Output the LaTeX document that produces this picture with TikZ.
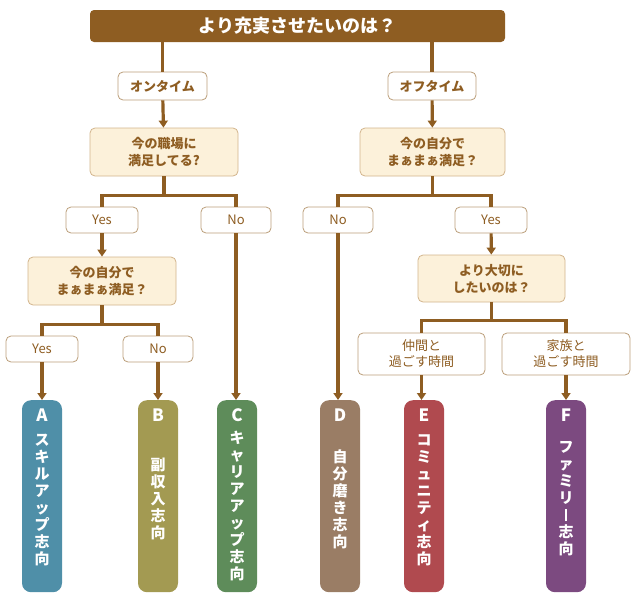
\documentclass[tikz,border=0pt]{standalone}
\usepackage{fontspec}
\setmainfont{Noto Sans CJK JP}
\usetikzlibrary{arrows.meta}
\definecolor{br}{HTML}{8E5D22}
\definecolor{qf}{HTML}{FCF1DA}
\definecolor{qb}{HTML}{D2B48C}
\tikzset{x=1pt,y=-1pt,
ln/.style={draw=br,line width=3.2pt},
ar/.style={ln,-{Triangle[length=7pt,width=9pt]}},
qbox/.style={draw=qb,fill=qf,rounded corners=5pt,line width=0.8pt,text=br,font=\bfseries\fontsize{13}{17}\selectfont,align=center,inner sep=0pt},
lbox/.style={draw=br!60,fill=white,rounded corners=5pt,line width=0.8pt,text=br,font=\fontsize{13}{16}\selectfont,align=center,inner sep=0pt},
bar/.style={rounded corners=9pt,inner sep=0pt,anchor=north,minimum width=40pt,minimum height=192pt},
blet/.style={text=white,font=\bfseries\fontsize{17}{17}\selectfont,inner sep=0pt},
btxt/.style={text=white,font=\bfseries\fontsize{15}{17}\selectfont,align=center,inner sep=0pt,anchor=north}}
\begin{document}
\begin{tikzpicture}
\useasboundingbox (0,0) rectangle (640,605);
\node[fill=br,rounded corners=4pt,minimum width=415pt,minimum height=32pt,text=white,font=\bfseries\fontsize{18}{20}\selectfont] (t) at (297.5,26) {より充実させたいのは？};
\node[lbox,minimum width=89pt,minimum height=28pt] (on) at (162.5,86) {\bfseries オンタイム};
\node[lbox,minimum width=88pt,minimum height=28pt] (off) at (432,86) {\bfseries オフタイム};
\node[qbox,minimum width=148pt,minimum height=48pt] (q1) at (164,152) {今の職場に\\満足してる?};
\node[qbox,minimum width=145pt,minimum height=48pt] (q2) at (432.5,152) {今の自分で\\まぁまぁ満足？};
\node[lbox,minimum width=72pt,minimum height=26pt] (y1) at (102,220) {Yes};
\node[lbox,minimum width=70pt,minimum height=26pt] (n1) at (236,220) {No};
\node[lbox,minimum width=70pt,minimum height=26pt] (n2) at (338,220) {No};
\node[lbox,minimum width=72pt,minimum height=26pt] (y2) at (491,220) {Yes};
\node[qbox,minimum width=148pt,minimum height=48pt] (q3) at (102,281) {今の自分で\\まぁまぁ満足？};
\node[qbox,minimum width=147pt,minimum height=47pt] (q4) at (491.5,278.5) {より大切に\\したいのは？};
\node[lbox,minimum width=72pt,minimum height=26pt] (y3) at (42,349) {Yes};
\node[lbox,minimum width=70pt,minimum height=26pt] (n3) at (158,349) {No};
\node[lbox,minimum width=127pt,minimum height=42pt] (e1) at (421.5,354) {仲間と\\過ごす時間};
\node[lbox,minimum width=128pt,minimum height=42pt] (f1) at (566,354) {家族と\\過ごす時間};
\node[bar,fill={rgb,255:red,79;green,143;blue,168}] (A) at (42,400) {};
\node[bar,fill={rgb,255:red,163;green,154;blue,82}] (B) at (158,400) {};
\node[bar,fill={rgb,255:red,94;green,140;blue,90}] (C) at (237,400) {};
\node[bar,fill={rgb,255:red,154;green,125;blue,101}] (D) at (340,400) {};
\node[bar,fill={rgb,255:red,176;green,74;blue,79}] (E) at (424,400) {};
\node[bar,fill={rgb,255:red,124;green,74;blue,128}] (F) at (566,400) {};
\node[blet] (Al) at (42,415) {A};
\node[blet] (Bl) at (158,415) {B};
\node[blet] (Cl) at (237,415) {C};
\node[blet] (Dl) at (340,415) {D};
\node[blet] (El) at (424,415) {E};
\node[blet] (Fl) at (566,415) {F};
\node[btxt] (At) at (42,434) {ス\\キ\\ル\\ア\\ッ\\プ\\志\\向};
\node[btxt] (Bt) at (158,458) {副\\収\\入\\志\\向};
\node[btxt] (Ct) at (237,431) {キ\\ャ\\リ\\ア\\ア\\ッ\\プ\\志\\向};
\node[btxt] (Dt) at (340,449) {自\\分\\磨\\き\\志\\向};
\node[btxt] (Et) at (424,434) {コ\\ミ\\ュ\\ニ\\テ\\ィ\\志\\向};
\node[btxt] (Ft) at (566,441) {フ\\ァ\\ミ\\リ\\\rule[-1pt]{2.2pt}{12pt}\\志\\向};
% connectors
\draw[ln] (t.south -| on) -- (on);
\draw[ln] (t.south -| off) -- (off);
\draw[ar] (on) -- (q1);
\draw[ar] (off) -- (q2);
\draw[ln] (q1.south) -- ++(0,19) -| (y1.north);
\draw[ln] (q1.south) ++(0,19) -| (n1.north);
\draw[ar] (y1) -- (q3);
\draw[ar] (n1.south) -- (n1.south |- C.north);
\draw[ln] (q2.south) -- ++(0,19) -| (n2.north);
\draw[ln] (q2.south) ++(0,19) -| (y2.north);
\draw[ar] (n2.south) -- (n2.south |- D.north);
\draw[ar] (y2) -- (q4);
\draw[ln] (q3.south) -- ++(0,19) -| (y3.north);
\draw[ln] (q3.south) ++(0,19) -| (n3.north);
\draw[ar] (y3.south) -- (y3.south |- A.north);
\draw[ar] (n3.south) -- (n3.south |- B.north);
\draw[ln] (q4.south) -- ++(0,18) -| (e1.north);
\draw[ln] (q4.south) ++(0,18) -| (f1.north);
\draw[ar] (e1.south) -- (e1.south |- E.north);
\draw[ar] (f1.south) -- (f1.south |- F.north);
\end{tikzpicture}
\end{document}
